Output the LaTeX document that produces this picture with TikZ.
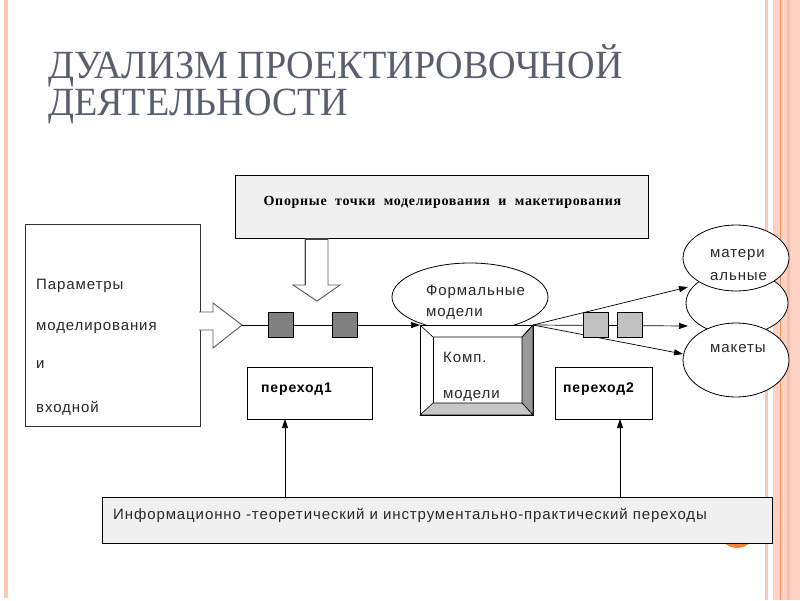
\documentclass[tikz,border=0pt]{standalone}
\usepackage{fontspec}
\setmainfont{Liberation Sans}
\newfontfamily\titlefont{Liberation Serif}
\newfontfamily\dsans[LetterSpace=6]{Liberation Sans}
\newfontfamily\dserif[LetterSpace=5]{Liberation Serif}
\usetikzlibrary{shapes.geometric,arrows.meta}
\definecolor{titlecol}{RGB}{88,95,110}
\definecolor{pinkL}{RGB}{251,200,184}
\definecolor{pinkband}{RGB}{253,210,195}
\definecolor{pinkdark}{RGB}{247,190,170}
\definecolor{orangeline}{RGB}{238,150,100}
\definecolor{orangedot}{RGB}{240,135,60}
\definecolor{boxgray}{RGB}{240,240,240}
\definecolor{darksq}{RGB}{128,128,128}
\definecolor{lightsq}{RGB}{192,192,192}
\definecolor{txtcol}{RGB}{40,40,40}
\newcommand{\ttltext}[1]{{\titlefont\fontsize{40}{40}\selectfont\scalebox{0.953}[1]{#1}}}
\tikzset{
  rbox/.style={draw=black, line width=0.9pt, anchor=north west, inner sep=0pt, outer sep=0pt},
  sq/.style={draw=black, line width=0.8pt, anchor=north west, inner sep=0pt, outer sep=0pt, minimum width=25pt, minimum height=25pt},
  ell/.style={draw=black, line width=0.8pt, fill=white, ellipse, inner sep=0pt, outer sep=0pt},
  lbl/.style={anchor=base west, inner sep=0pt, text=txtcol, font=\dsans\fontsize{15}{15}\selectfont},
  blbl/.style={anchor=base west, inner sep=0pt, text=black, font=\dsans\bfseries\fontsize{14}{14}\selectfont},
  arr/.style={-{Triangle[length=9pt,width=6pt]}, line width=0.7pt},
  blockarr/.style={draw=black!65, line width=0.9pt, fill=white, line join=miter},
  ttl/.style={anchor=base west, inner sep=0pt, text=titlecol}
}
\begin{document}
\begin{tikzpicture}[x=1pt,y=-1pt]
\useasboundingbox (0,0) rectangle (800,600);
\fill[white] (0,0) rectangle (800,600);
% decorative stripes
\fill[pinkL] (4,0) rectangle (8,598);
\fill[pinkL] (765,0) rectangle (768,600);
\fill[pinkband] (773,0) rectangle (800,600);
\fill[pinkdark] (787,0) rectangle (790,600);
\draw[orangeline, line width=1pt] (780,0) -- (780,600);
\fill[orangedot] (737,530) circle (18);

% title
\node[ttl] (t1) at (48,78) {\ttltext{ДУАЛИЗМ ПРОЕКТИРОВОЧНОЙ}};
\node[ttl] (t2) at (48,115) {\ttltext{ДЕЯТЕЛЬНОСТИ}};

% top box
\node[rbox, fill=boxgray, minimum width=413pt, minimum height=63pt] (top) at (235,175) {};
\node[anchor=base, inner sep=0pt, font=\dserif\bfseries\fontsize{14}{14}\selectfont] (toptxt) at (442.5,205) {Опорные\ \ точки\ \ моделирования\ \ и\ \ макетирования};

% down block arrow
\path[blockarr] (305,238) -- (305,285) -- (293,285) -- (317,301) -- (340,285) -- (328,285) -- (328,238);
\draw[black!75, line width=1.5pt] (305.5,285) -- (305.5,239) -- (328,239);

% left box
\node[rbox, draw=black!80, minimum width=175pt, minimum height=202pt] (left) at (25,224) {};
\node[lbl] (l1) at (36,289) {Параметры};
\node[lbl] (l2) at (36,330) {моделирования};
\node[lbl] (l3) at (36,368) {и};
\node[lbl] (l4) at (36,412) {входной};

% right block arrow
\path[blockarr] (199,312) -- (213,312) -- (213,303) -- (242,325) -- (213,348) -- (213,330) -- (199,330);
\coordinate (bt) at (242,325);

% formal models ellipse
\node[ell, minimum width=156pt, minimum height=68pt] (formal) at (470,297) {};
\node[lbl] (f1) at (426,295) {Формальные};
\node[lbl] (f2) at (426,316) {модели};

% komp box (bevelled)
\node[rbox, fill=white, minimum width=113pt, minimum height=90pt] (komp) at (420,325) {};
\filldraw[fill=black!40, draw=black, line width=0.6pt] (533,325) -- (522,337) -- (522,403) -- (533,415) -- cycle;
\filldraw[fill=black!22, draw=black, line width=0.6pt] (420,415) -- (433,403) -- (522,403) -- (533,415) -- cycle;
\draw[black, line width=0.6pt] (420,325) -- (433,337) -- (522,337) -- (533,325);
\draw[black, line width=0.6pt] (433,337) -- (433,403);
\draw[black, line width=0.9pt] (komp.north west) rectangle (komp.south east);
\node[lbl] (k1) at (443,362) {Комп.};
\node[lbl] (k2) at (443,398) {модели};

% main line with dark squares
\draw[arr] (bt) -- (komp.north west);
\node[sq, fill=darksq] (d1) at (268,312) {};
\node[sq, fill=darksq] (d2) at (332,312) {};

% perehod boxes
\node[rbox, fill=white, minimum width=125pt, minimum height=52pt] (p1) at (247,367) {};
\node[blbl] (p1t) at (261,392) {переход1};
\node[rbox, fill=white, minimum width=97pt, minimum height=52pt] (p2) at (555,367) {};
\node[blbl] (p2t) at (563,392) {переход2};

% right ellipses
\node[ell, minimum width=102pt, minimum height=64pt] (mid) at (737,303) {};
\node[ell, minimum width=106pt, minimum height=66pt] (mat) at (736,258) {};
\node[ell, minimum width=106pt, minimum height=74pt] (mak) at (736,360) {};
\node[lbl] (m1) at (710,257) {матери};
\node[lbl] (m2) at (710,280) {альные};
\node[lbl] (m3) at (710,352) {макеты};

% fan-out arrows
\coordinate (e1) at (688,287);
\coordinate (e2) at (688,326);
\coordinate (e3) at (683,354);
\draw[arr] (komp.north east) -- (e1);
\draw[arr] (komp.north east) -- (e2);
\draw[arr] (komp.north east) -- (e3);
\node[sq, fill=lightsq] (s1) at (583,312) {};
\node[sq, fill=lightsq] (s2) at (617,312) {};

% bottom box
\node[rbox, fill=boxgray, minimum width=670pt, minimum height=46pt] (bot) at (102,497) {};
\node[lbl, font=\dsans\fontsize{15}{15}\selectfont] (bt1) at (113,519) {Информационно -теоретический и инструментально-практический переходы};

% vertical arrows
\coordinate (b1) at (285,497);
\coordinate (b2) at (620,497);
\draw[arr] (b1) -- (p1.south -| b1);
\draw[arr] (b2) -- (p2.south -| b2);
\end{tikzpicture}
\end{document}
